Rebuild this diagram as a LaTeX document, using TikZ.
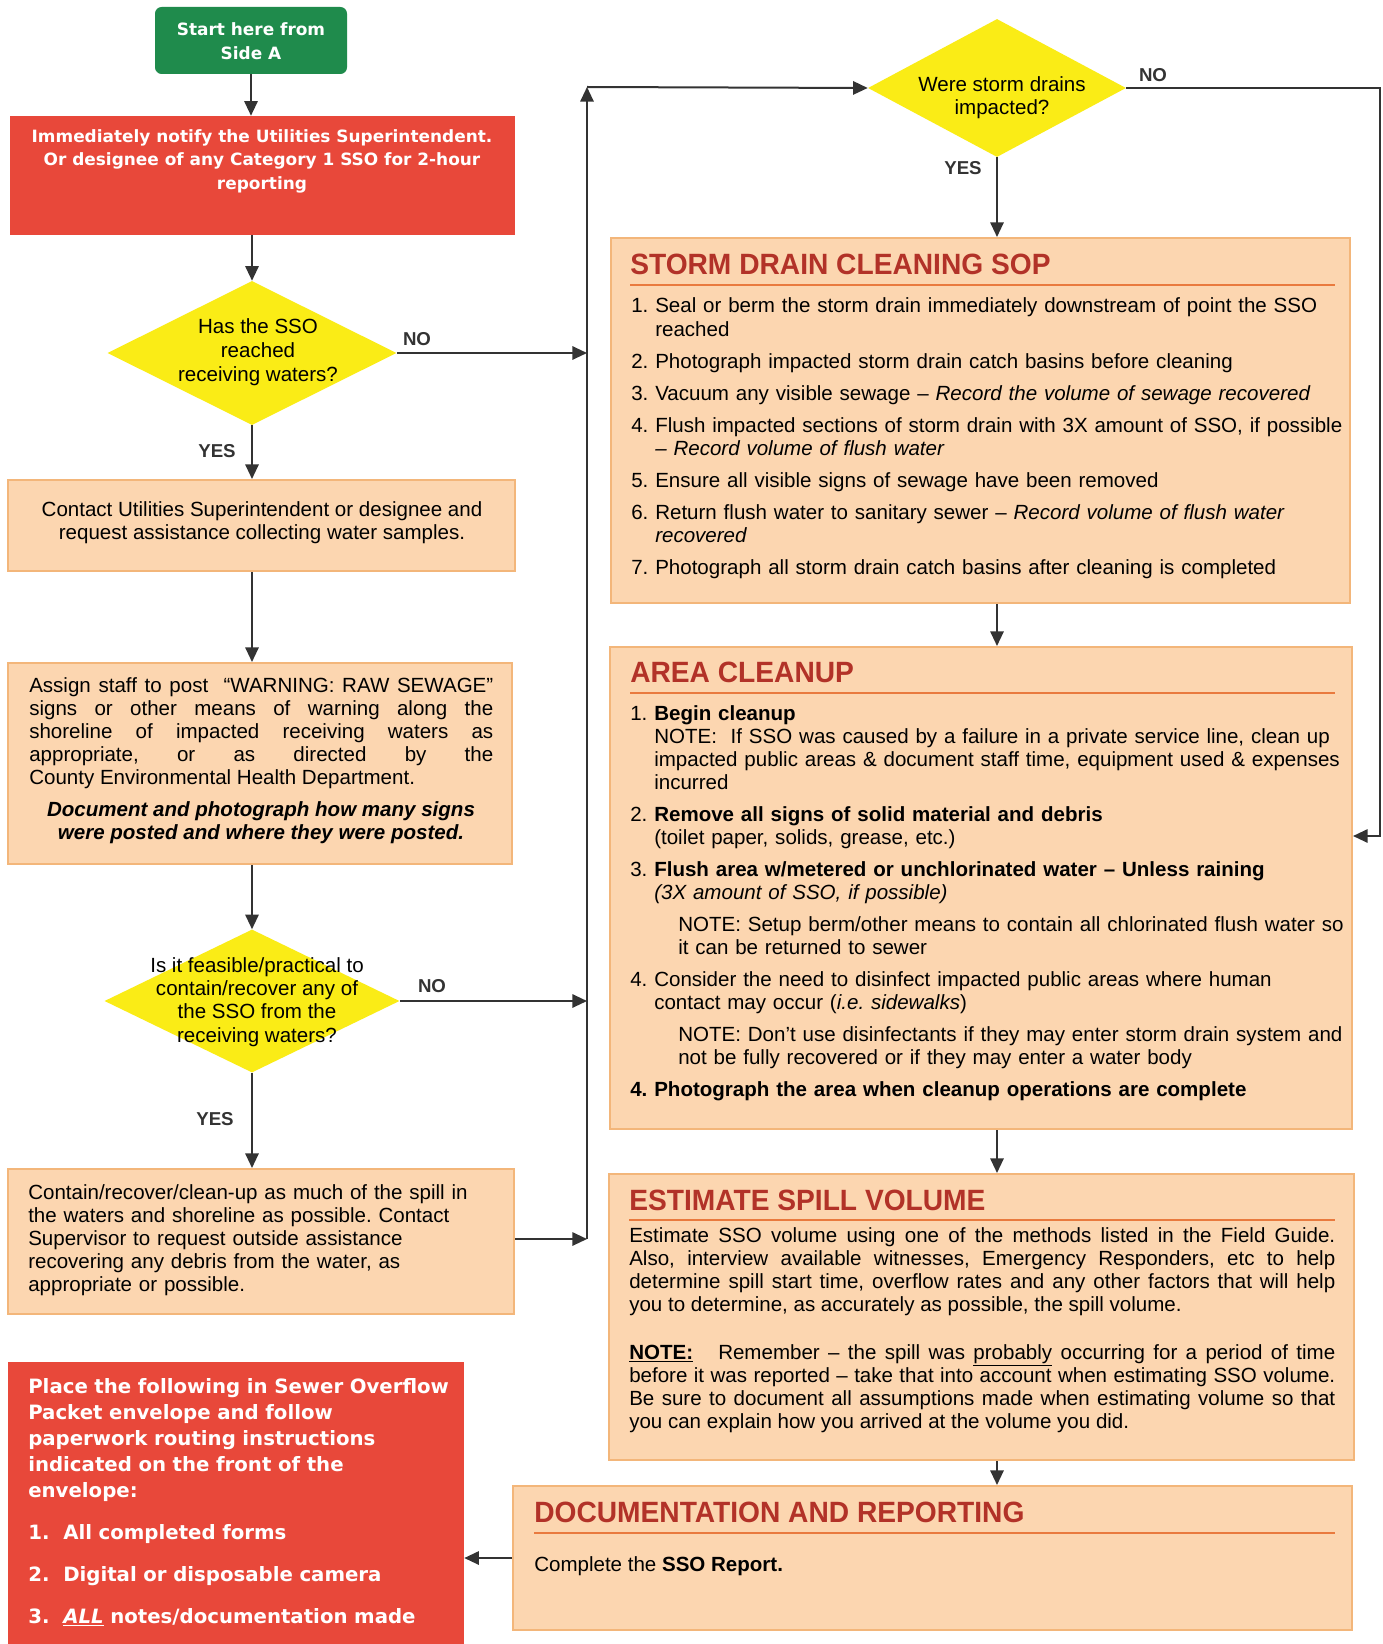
\documentclass[tikz,border=0pt]{standalone}
\usepackage{fontspec}
\setmainfont{Liberation Sans}
\newfontfamily\humfont{DejaVu Sans}
\newfontfamily\headfont[FakeStretch=0.96]{Liberation Sans}
\usetikzlibrary{shapes.geometric,arrows.meta,fit}

\definecolor{boxfill}{RGB}{252,214,176}
\definecolor{boxline}{RGB}{243,182,122}
\definecolor{alertred}{RGB}{232,72,58}
\definecolor{startgreen}{RGB}{31,139,76}
\definecolor{decyellow}{RGB}{250,236,22}
\definecolor{headred}{RGB}{178,50,40}
\definecolor{ruleorange}{RGB}{233,122,62}
\definecolor{ink}{RGB}{51,51,51}

% first numbered entry of a list (no paragraph break before it)
\newcommand{\firstentry}[3][18pt]{\hangindent=#1\hangafter=1\noindent\makebox[#1][l]{#2}#3}
% further numbered entries with hanging indent: [indent]{number}{text}
\newcommand{\entry}[3][18pt]{\par\hangindent=#1\hangafter=1\noindent\makebox[#1][l]{#2}#3}
% indented note paragraph
\newcommand{\subnote}[1]{\par\hangindent=36pt\hangafter=0\noindent #1}

\tikzset{
  x=0.75pt, y=-0.75pt,
  stepbox/.style={fill=boxfill, draw=boxline, line width=1.5pt, inner sep=0pt},
  alertbox/.style={fill=alertred, draw=none, inner sep=0pt},
  startbox/.style={fill=startgreen, rounded corners=5pt, inner sep=0pt},
  decision/.style={diamond, fill=decyellow, draw=none, inner sep=0pt},
  body/.style={inner sep=0pt, text=black, font=\fontsize{15.4}{17.3}\selectfont},
  boldwhite/.style={inner sep=0pt, text=white, font=\humfont\bfseries\fontsize{12.7}{17.6}\selectfont},
  head/.style={inner sep=0pt, anchor=base west, text=headred, font=\headfont\bfseries\fontsize{22}{24}\selectfont},
  headrule/.style={draw=ruleorange, line width=2.2pt},
  flow/.style={draw=ink, line width=1.5pt, -{Triangle[length=11pt,width=10pt]}},
  answer/.style={inner sep=0pt, text=ink, font=\bfseries\fontsize{14}{16}\selectfont},
}

\begin{document}
\frenchspacing
\begin{tikzpicture}
\useasboundingbox (0,0) rectangle (1383,1644);
\fill[white] (0,0) rectangle (1383,1644);

% ---------------- left column ----------------
\node[startbox, fit={(155,7) (347,74)}] (start) {};
\node[boldwhite, align=center] (starttxt) at (251,41) {Start here from\\Side A};

\node[alertbox, fit={(10,116) (515,235)}] (notify) {};
\node[boldwhite, align=center] (notifytxt) at (262,161)
  {Immediately notify the Utilities Superintendent.\\Or designee of any Category 1 SSO for 2-hour\\reporting};

\node[decision, minimum width=216.75pt, minimum height=108pt] (reached) at (252,353) {};
\node[body, align=center, font=\fontsize{15.4}{18}\selectfont] (reachedtxt) at (258,352)
  {Has the SSO\\reached\\receiving waters?};

\node[stepbox, fit={(8,480) (515,571)}] (contact) {};
\node[body, align=center] (contacttxt) at (262,523)
  {Contact Utilities Superintendent or designee and\\request assistance collecting water samples.};

\node[stepbox, fit={(8,663) (512,864)}] (signs) {};
\node[body, anchor=base west, text width=348pt, align=justify] (signstxt) at (29,692)
  {Assign staff to post \ “WARNING: RAW SEWAGE”\linebreak
   signs or other means of warning along the\linebreak
   shoreline of impacted receiving waters as\linebreak
   appropriate, or as directed by the\linebreak
   County Environmental Health Department.};
\node[body, align=center] (signsnote) at (261,823)
  {\bfseries\itshape Document and photograph how many signs\\
   \bfseries\itshape were posted and where they were posted.};

\node[decision, minimum width=221.25pt, minimum height=107.25pt] (feasible) at (252,1001) {};
\node[body, align=center, font=\fontsize{15.4}{17.5}\selectfont] (feasibletxt) at (257,1002)
  {Is it feasible/practical to\\contain/recover any of\\the SSO from the\\receiving waters?};

\node[stepbox, fit={(8,1169) (514,1314)}] (contain) {};
\node[body, anchor=base west, text width=370pt] (containtxt) at (28,1199)
  {Contain/recover/clean-up as much of the spill in\newline
   the waters and shoreline as possible. Contact\newline
   Supervisor to request outside assistance\newline
   recovering any debris from the water, as\newline
   appropriate or possible.};

\node[alertbox, fit={(8,1362) (464,1650)}] (packet) {};
\node[inner sep=0pt, text=white, anchor=base west, text width=330pt,
      font=\humfont\bfseries\fontsize{14.8}{19.5}\selectfont] (packettxt) at (28,1393)
  {\setlength{\parskip}{12pt}%
   Place the following in Sewer Overflow\newline
   Packet envelope and follow\newline
   paperwork routing instructions\newline
   indicated on the front of the\newline
   envelope:
   \entry[26.25pt]{1.}{All completed forms}
   \entry[26.25pt]{2.}{Digital or disposable camera}
   \entry[26.25pt]{3.}{\underline{\itshape ALL} notes/documentation made}};

% ---------------- right column ----------------
\node[decision, minimum width=193.5pt, minimum height=103.5pt] (drains) at (997,88) {};
\node[body, align=center] (drainstxt) at (1002,98) {Were storm drains\\impacted?};

\node[stepbox, fit={(611,238) (1350,603)}] (storm) {};
\node[head] (stormhead) at (630,275) {STORM DRAIN CLEANING SOP};
\draw[headrule] (630,285) -- (1335,285);
\node[body, anchor=base west, text width=555pt] (stormlist) at (631,313)
  {\setlength{\parskip}{6.75pt}%
   \firstentry{1.}{Seal or berm the storm drain immediately downstream of point the SSO\newline reached}
   \entry{2.}{Photograph impacted storm drain catch basins before cleaning}
   \entry{3.}{Vacuum any visible sewage – \textit{Record the volume of sewage recovered}}
   \entry{4.}{Flush impacted sections of storm drain with 3X amount of SSO, if possible\newline \textit{– Record volume of flush water}}
   \entry{5.}{Ensure all visible signs of sewage have been removed}
   \entry{6.}{Return flush water to sanitary sewer – \textit{Record volume of flush water\newline recovered}}
   \entry{7.}{Photograph all storm drain catch basins after cleaning is completed}};

\node[stepbox, fit={(610,647) (1352,1129)}] (area) {};
\node[head] (areahead) at (630,682) {AREA CLEANUP};
\draw[headrule] (630,693) -- (1335,693);
\node[body, anchor=base west, text width=555pt] (arealist) at (630,720)
  {\setlength{\parskip}{6.75pt}%
   \firstentry{1.}{\textbf{Begin cleanup}\newline NOTE:\ \ If SSO was caused by a failure in a private service line, clean up\newline impacted public areas \& document staff time, equipment used \& expenses\newline incurred}
   \entry{2.}{\textbf{Remove all signs of solid material and debris}\newline (toilet paper, solids, grease, etc.)}
   \entry{3.}{\textbf{Flush area w/metered or unchlorinated water – Unless raining}\newline \textit{(3X amount of SSO, if possible)}}
   \subnote{NOTE: Setup berm/other means to contain all chlorinated flush water so\newline it can be returned to sewer}
   \entry{4.}{Consider the need to disinfect impacted public areas where human\newline contact may occur (\textit{i.e.\ sidewalks})}
   \subnote{NOTE: Don’t use disinfectants if they may enter storm drain system and\newline not be fully recovered or if they may enter a water body}
   \entry{\textbf{4.}}{\textbf{Photograph the area when cleanup operations are complete}}};

\node[stepbox, fit={(609,1174) (1354,1460)}] (spill) {};
\node[head] (spillhead) at (629,1210) {ESTIMATE SPILL VOLUME};
\draw[headrule] (629,1220) -- (1335,1220);
\node[body, anchor=base west, text width=529.5pt, align=justify] (spilltxt) at (629,1242)
  {Estimate SSO volume using one of the methods listed in the Field Guide.\linebreak
   Also, interview available witnesses, Emergency Responders, etc to help\linebreak
   determine spill start time, overflow rates and any other factors that will help\linebreak
   you to determine, as accurately as possible, the spill volume.\par
   \vspace{18.7pt}%
   \underline{\textbf{NOTE:}}\ \ \ Remember – the spill was \underline{probably} occurring for a period of time\linebreak
   before it was reported – take that into account when estimating SSO volume.\linebreak
   Be sure to document all assumptions made when estimating volume so that\linebreak
   you can explain how you arrived at the volume you did.};

\node[stepbox, fit={(513,1486) (1352,1630)}] (doc) {};
\node[head] (dochead) at (534,1522) {DOCUMENTATION AND REPORTING};
\draw[headrule] (534,1533) -- (1335,1533);
\node[body, anchor=base west] (doctxt) at (534,1571) {Complete the \textbf{SSO Report.}};

% ---------------- connectors ----------------
\coordinate (bustop) at (587,87);
\coordinate (busbot) at (587,1239);
\coordinate (noturn) at (1380,836);

\draw[flow] (start.south) -- (start.south |- notify.north);
\draw[flow] (notify.south -| reached.north) -- (reached.north);
\draw[flow] (reached.east) -- (reached.east -| bustop);
\draw[flow] (reached.south) -- (reached.south |- contact.north);
\draw[flow] (contact.south -| reached.south) -- (signs.north -| reached.south);
\draw[flow] (signs.south -| feasible.north) -- (feasible.north);
\draw[flow] (feasible.east) -- (feasible.east -| bustop);
\draw[flow] (feasible.south) -- (feasible.south |- contain.north);
\draw[flow] (contain.east |- busbot) -- (busbot);
\draw[flow] (busbot) -- (bustop);
\draw[flow] (bustop) -- (drains.west);
\draw[flow] (drains.east) -| (noturn) -- (noturn -| area.east);
\draw[flow] (drains.south) -- (drains.south |- storm.north);
\draw[flow] (storm.south -| drains.south) -- (area.north -| drains.south);
\draw[flow] (area.south -| drains.south) -- (spill.north -| drains.south);
\draw[flow] (spill.south -| drains.south) -- (doc.north -| drains.south);
\draw[flow] (doc.west) -- (doc.west -| packet.east);

% branch answers
\node[answer] (no1) at (417,339) {NO};
\node[answer] (yes1) at (217,451) {YES};
\node[answer] (no2) at (432,986) {NO};
\node[answer] (yes2) at (215,1119) {YES};
\node[answer] (no3) at (1153,75) {NO};
\node[answer] (yes3) at (963,168) {YES};
\end{tikzpicture}
\end{document}
